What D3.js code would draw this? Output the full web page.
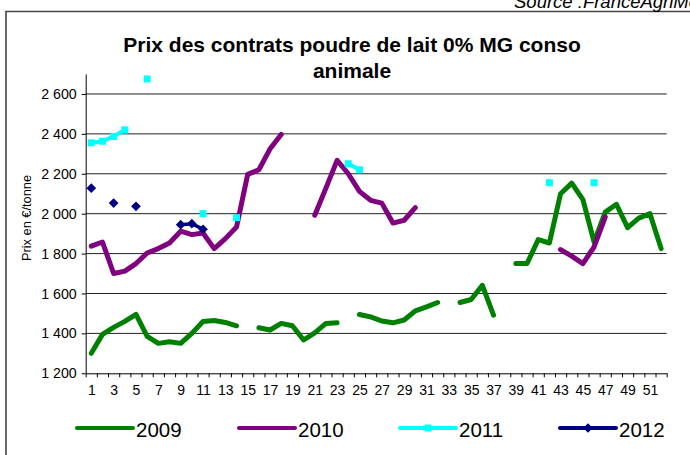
<!DOCTYPE html>
<html>
<head>
<meta charset="utf-8">
<script src="https://cdn.jsdelivr.net/npm/d3@7"></script>
<style>
  html, body { margin: 0; padding: 0; background: #fff; }
  svg { display: block; font-family: "Liberation Sans", Arial, sans-serif; }
</style>
</head>
<body>
<svg id="chart" width="690" height="455"></svg>
<script>
// ---- data ----
const weeks = d3.range(1, 53);
const xTickLabels = d3.range(1, 53, 2);
const yTicks = [1200, 1400, 1600, 1800, 2000, 2200, 2400, 2600];
const seriesNames = ["2009", "2010", "2011", "2012"];

const values2009 = [1300, 1395, 1430, 1460, 1495, 1385, 1350, 1358, 1350, 1400,
  1460, 1465, 1455, 1438, null, 1428, 1417, 1450, 1438, 1367,
  1403, 1450, 1453, null, 1495, 1483, 1462, 1453, 1467, 1513,
  1533, 1555, null, 1555, 1570, 1641, 1491, null, 1750, 1750,
  1870, 1853, 2100, 2153, 2070, 1858, 2008, 2047, 1930, 1978,
  2000, 1825];
const values2010 = [1837, 1858, 1700, 1712, 1750, 1803, 1825, 1853, 1912, 1895,
  1903, 1825, 1875, 1933, 2197, 2220, 2325, 2397, null, null,
  1992, 2128, 2267, 2200, 2112, 2067, 2053, 1953, 1967, 2030,
  null, null, null, null, null, null, null, null, null, null,
  null, null, 1820, 1787, 1750, 1833, 1983, null, null, null,
  null, null];
const values2011 = [2355, 2363, 2387, 2420, null, 2675, null, null, null, null,
  2000, null, null, 1980, null, null, null, null, null, null,
  null, null, null, 2250, 2220, null, null, null, null, null,
  null, null, null, null, null, null, null, null, null, null,
  null, 2155, null, null, null, 2155, null, null, null, null,
  null, null];
const values2012 = [2128, null, 2053, null, 2037, null, null, null, 1945, 1950,
  1922, null, null, null, null, null, null, null, null, null,
  null, null, null, null, null, null, null, null, null, null,
  null, null, null, null, null, null, null, null, null, null,
  null, null, null, null, null, null, null, null, null, null,
  null, null];

const colors = ["#008000", "#800080", "#00FFFF", "#000080"];
const allValues = [values2009, values2010, values2011, values2012];

// ---- layout ----
const svg = d3.select("#chart");
const plot = { left: 85.7, right: 666.7, top: 74, bottom: 373.3 };

const x = d3.scaleLinear().domain([0.5, 52.5]).range([plot.left, plot.right]);
const y = d3.scaleLinear().domain([1200, 2700]).range([plot.bottom, plot.top]);

const locale = d3.formatLocale({ decimal: ",", thousands: "\u00a0", grouping: [3], currency: ["", "€"] });
const fmt = locale.format(",");

// frame
svg.append("path")
  .attr("d", "M6,455 L6,11.5 L690,11.5")
  .attr("fill", "none").attr("stroke", "#444").attr("stroke-width", 1.6);

// source (cut off by the picture edges as in the original)
svg.append("text")
  .attr("x", 514).attr("y", 7.5)
  .attr("font-size", 18.5).attr("font-style", "italic").attr("fill", "#000")
  .text("Source :FranceAgriMer");

// title
const title = svg.append("text")
  .attr("text-anchor", "middle").attr("font-weight", "bold").attr("font-size", 21).attr("fill", "#000");
title.append("tspan").attr("x", 352).attr("y", 52).text("Prix des contrats poudre de lait 0% MG conso");
title.append("tspan").attr("x", 352).attr("y", 77.5).text("animale");

// gridlines
svg.append("g").selectAll("line")
  .data(yTicks.filter(d => d > 1200))
  .join("line")
  .attr("x1", plot.left).attr("x2", plot.right)
  .attr("y1", d => y(d)).attr("y2", d => y(d))
  .attr("stroke", "#222").attr("stroke-width", 1);

// y axis
const yAxis = svg.append("g")
  .attr("transform", `translate(${plot.left},0)`)
  .call(d3.axisLeft(y).tickValues(yTicks).tickFormat(fmt).tickSize(4).tickSizeOuter(0).tickPadding(5));
yAxis.select(".domain").attr("stroke", "#000");
yAxis.selectAll("text").attr("font-size", 14.2).attr("fill", "#000").attr("font-family", "Liberation Sans, Arial, sans-serif");

// x axis ticks at category boundaries
const xAxis = svg.append("g")
  .attr("transform", `translate(0,${plot.bottom})`)
  .call(d3.axisBottom(x).tickValues(d3.range(0.5, 53, 1)).tickFormat("").tickSize(4).tickSizeOuter(0));
xAxis.select(".domain").attr("stroke", "#000");

const xLabels = svg.append("g")
  .attr("transform", `translate(0,${plot.bottom})`)
  .call(d3.axisBottom(x).tickValues(xTickLabels).tickFormat(d => d).tickSize(0).tickPadding(12));
xLabels.select(".domain").remove();
xLabels.selectAll("text").attr("font-size", 14).attr("fill", "#000").attr("font-family", "Liberation Sans, Arial, sans-serif");

// y title
svg.append("text")
  .attr("transform", "translate(31,218) rotate(-90)")
  .attr("text-anchor", "middle").attr("font-size", 12.8).attr("fill", "#000")
  .text("Prix en €/tonne");

// lines
const line = d3.line()
  .defined(d => d.v !== null)
  .x(d => x(d.w)).y(d => y(d.v));

const widths = [5, 5, 4, 3.5];
allValues.forEach((vals, i) => {
  const pts = weeks.map((w, k) => ({ w, v: vals[k] }));
  svg.append("path")
    .datum(pts)
    .attr("fill", "none")
    .attr("stroke", colors[i])
    .attr("stroke-width", widths[i])
    .attr("stroke-linejoin", "round")
    .attr("stroke-linecap", "round")
    .attr("d", line);
});

// markers 2011 (squares)
const pts2011 = weeks.map((w, k) => ({ w, v: values2011[k] })).filter(d => d.v !== null);
svg.append("g").selectAll("rect")
  .data(pts2011).join("rect")
  .attr("x", d => x(d.w) - 3.5).attr("y", d => y(d.v) - 3.5)
  .attr("width", 7).attr("height", 7)
  .attr("fill", colors[2]);

// markers 2012 (diamonds)
const pts2012 = weeks.map((w, k) => ({ w, v: values2012[k] })).filter(d => d.v !== null);
const diamond = d3.symbol().type(d3.symbolDiamond2).size(60);
svg.append("g").selectAll("path")
  .data(pts2012).join("path")
  .attr("transform", d => `translate(${x(d.w)},${y(d.v)})`)
  .attr("d", diamond)
  .attr("fill", colors[3]);

// legend
const legendX = [77, 239, 400, 560];
const legend = svg.append("g");
seriesNames.forEach((name, i) => {
  const g = legend.append("g").attr("transform", `translate(${legendX[i]},428)`);
  g.append("line").attr("x1", 0).attr("x2", 56).attr("y1", 0).attr("y2", 0)
    .attr("stroke", colors[i]).attr("stroke-width", 4).attr("stroke-linecap", "round");
  if (i === 2) {
    g.append("rect").attr("x", 24.5).attr("y", -3.5).attr("width", 7).attr("height", 7).attr("fill", colors[2]);
  }
  if (i === 3) {
    g.append("path").attr("transform", "translate(28,0)").attr("d", diamond).attr("fill", colors[3]);
  }
  g.append("text").attr("x", 59).attr("y", 8.5)
    .attr("font-size", 20.5).attr("fill", "#000").text(name);
});
</script>
</body>
</html>
